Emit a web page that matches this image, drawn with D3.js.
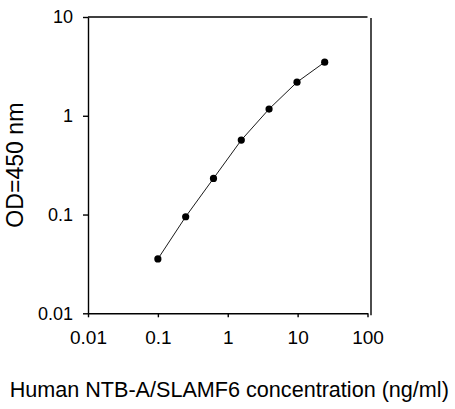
<!DOCTYPE html>
<html>
<head>
<meta charset="utf-8">
<script src="https://cdn.jsdelivr.net/npm/d3@7"></script>
<style>
  body { margin: 0; background: #fff; }
  svg { display: block; font-family: Arial, "Liberation Sans", sans-serif; }
</style>
</head>
<body>
<div class="chart-section"></div>
<script>
// standard curve readings
const concentrations = [0.1, 0.25, 0.625, 1.5625, 3.9, 9.8, 24.4];
const odValues = [0.0355, 0.095, 0.232, 0.567, 1.17, 2.19, 3.49];
const xTicks = [0.01, 0.1, 1, 10, 100];
const yTicks = [0.01, 0.1, 1, 10];
const xTitle = "Human NTB-A/SLAMF6 concentration (ng/ml)";
const yTitle = "OD=450 nm";

const width = 455;
const height = 409;
const margin = { top: 17, right: 88, bottom: 96, left: 88 };

const svg = d3
  .select(".chart-section")
  .append("svg")
  .attr("width", width)
  .attr("height", height);

const x = d3
  .scaleLog()
  .domain([0.01, 100])
  .range([margin.left, width - margin.right + 0.5]);

const y = d3
  .scaleLog()
  .domain([0.01, 10])
  .range([height - margin.bottom + 0.3, margin.top]);

const fmt = (d) => (d >= 1 ? d3.format("d")(d) : String(d));

// x axis
const xAxis = svg
  .append("g")
  .attr("transform", `translate(0,${y(0.01)})`)
  .call(d3.axisBottom(x).tickValues(xTicks).tickFormat(fmt).tickSize(4).tickSizeOuter(0));

xAxis.selectAll("text").attr("font-size", 19).attr("dy", "1.25em").attr("fill", "#000");

// y axis
const yAxis = svg
  .append("g")
  .attr("transform", `translate(${x(0.01)},0)`)
  .call(d3.axisLeft(y).tickValues(yTicks).tickFormat(fmt).tickSize(5).tickSizeOuter(0));

yAxis.selectAll("text").attr("font-size", 18).attr("x", -15).attr("fill", "#000");

svg.selectAll(".domain, .tick line").attr("stroke", "#000").attr("stroke-width", 1.4);

// frame: top and right edges
svg
  .append("line")
  .attr("x1", x(0.01))
  .attr("x2", x(100))
  .attr("y1", y(10))
  .attr("y2", y(10))
  .attr("stroke", "#000")
  .attr("stroke-width", 1.4);

svg
  .append("line")
  .attr("x1", x(100) + 3.5)
  .attr("x2", x(100) + 3.5)
  .attr("y1", y(10) + 1)
  .attr("y2", y(0.01) + 2)
  .attr("stroke", "#000")
  .attr("stroke-width", 1.4);

// curve
const points = concentrations.map((c, i) => [c, odValues[i]]);

svg
  .append("path")
  .datum(points)
  .attr("fill", "none")
  .attr("stroke", "#000")
  .attr("stroke-width", 0.9)
  .attr("d", d3.line().x((d) => x(d[0])).y((d) => y(d[1])));

svg
  .selectAll("circle")
  .data(points)
  .join("circle")
  .attr("cx", (d) => x(d[0]))
  .attr("cy", (d) => y(d[1]))
  .attr("r", 3.6)
  .attr("fill", "#000");

// titles
svg
  .append("text")
  .attr("x", (x(0.01) + x(100)) / 2 + 1.5)
  .attr("y", 397)
  .attr("text-anchor", "middle")
  .attr("font-size", 21.6)
  .attr("fill", "#000")
  .text(xTitle);

svg
  .append("text")
  .attr("transform", `translate(23,${(y(0.01) + y(10)) / 2}) rotate(-90)`)
  .attr("text-anchor", "middle")
  .attr("font-size", 23)
  .attr("textLength", 125)
  .attr("lengthAdjust", "spacingAndGlyphs")
  .attr("fill", "#000")
  .text(yTitle);
</script>
</body>
</html>
